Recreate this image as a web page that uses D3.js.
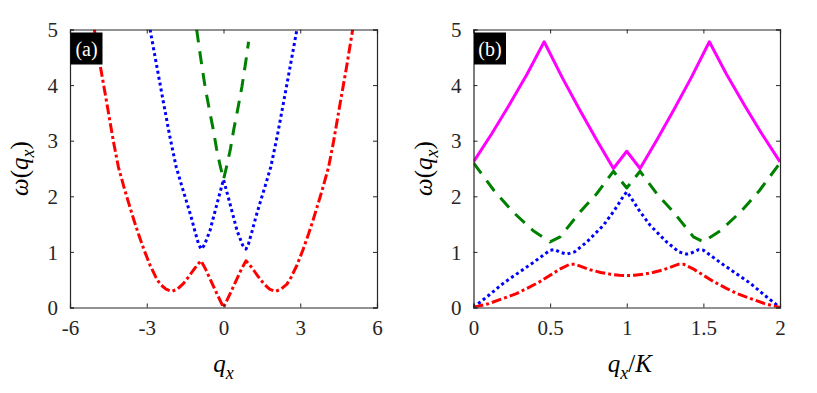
<!DOCTYPE html>
<html>
<head>
<meta charset="utf-8">
<script src="https://cdn.jsdelivr.net/npm/d3@7"></script>
<style>
  body { margin: 0; background: #fff; }
</style>
</head>
<body>
<svg width="817" height="393"></svg>
<script>

// DATA ––––––––––––––––––––––––––––––––––––––––––––––––––––––––––––––––

// panel (a): omega vs q_x
var qRedA = [-5.05, -4.8, -4.57, -4.3, -4.11, -3.9, -3.72, -3.5, -3.33, -3.1, -2.87, -2.65, -2.48, -2.25, -2.02, -1.8, -1.57, -1.35, -1.18, -1.0, -0.88, -0.7, -0.53, -0.3, 0,
             0.3, 0.53, 0.7, 0.88, 1.0, 1.18, 1.35, 1.57, 1.8, 2.02, 2.25, 2.48, 2.65, 2.87, 3.1, 3.33, 3.5, 3.72, 3.9, 4.11, 4.3, 4.57, 4.8, 5.05];
var wRedA = [5.0, 4.3, 3.7, 2.98, 2.53, 2.18, 1.9, 1.57, 1.33, 1.03, 0.76, 0.55, 0.42, 0.33, 0.29, 0.33, 0.43, 0.56, 0.67, 0.78, 0.84, 0.69, 0.52, 0.29, 0,
             0.29, 0.52, 0.69, 0.84, 0.78, 0.67, 0.56, 0.43, 0.33, 0.29, 0.33, 0.42, 0.55, 0.76, 1.03, 1.33, 1.57, 1.9, 2.18, 2.53, 2.98, 3.7, 4.3, 5.0];

var qBlueA = [-2.87, -2.6, -2.36, -2.1, -1.85, -1.64, -1.44, -1.26, -1.11, -0.98, -0.88, -0.75, -0.53, -0.36, -0.2, 0,
              0.2, 0.36, 0.53, 0.75, 0.88, 0.98, 1.11, 1.26, 1.44, 1.64, 1.85, 2.1, 2.36, 2.6, 2.87];
var wBlueA = [5.0, 4.32, 3.72, 3.08, 2.53, 2.2, 1.9, 1.62, 1.36, 1.15, 1.05, 1.12, 1.38, 1.68, 1.96, 2.3,
              1.96, 1.68, 1.38, 1.12, 1.05, 1.15, 1.36, 1.62, 1.9, 2.2, 2.53, 3.08, 3.72, 4.32, 5.0];

var qGreenA = [-1.05, -0.88, -0.72, -0.55, -0.4, -0.27, -0.13, 0, 0.13, 0.27, 0.4, 0.55, 0.72, 0.88, 0.98];
var wGreenA = [5.0, 4.45, 3.97, 3.55, 3.2, 2.85, 2.55, 2.3, 2.55, 2.85, 3.2, 3.55, 3.97, 4.45, 4.78];

// panel (b): omega vs q_x/K
var tMagB = [0, 0.12, 0.23, 0.35, 0.461, 0.58, 0.69, 0.8, 0.913, 1.0, 1.087, 1.2, 1.31, 1.42, 1.539, 1.65, 1.77, 1.88, 2.0];
var wMagB = [2.62, 3.13, 3.63, 4.2, 4.78, 4.13, 3.57, 3.03, 2.5, 2.81, 2.5, 3.03, 3.57, 4.13, 4.78, 4.2, 3.63, 3.13, 2.62];

var tGreenB = [0, 0.135, 0.257, 0.39, 0.5, 0.565, 0.696, 0.805, 0.913, 1.0, 1.087, 1.195, 1.304, 1.435, 1.5, 1.61, 1.743, 1.865, 2.0];
var wGreenB = [2.6, 2.1, 1.72, 1.38, 1.18, 1.27, 1.72, 2.05, 2.45, 2.15, 2.45, 2.05, 1.72, 1.27, 1.18, 1.38, 1.72, 2.1, 2.6];

var tBlueB = [0, 0.1, 0.196, 0.28, 0.37, 0.45, 0.5, 0.53, 0.57, 0.609, 0.66, 0.74, 0.848, 0.92, 0.978, 1.0,
              1.022, 1.08, 1.152, 1.26, 1.34, 1.391, 1.43, 1.47, 1.5, 1.55, 1.63, 1.72, 1.804, 1.9, 2.0];
var wBlueB = [0, 0.22, 0.44, 0.6, 0.77, 0.93, 1.03, 1.04, 0.99, 0.96, 1.0, 1.18, 1.48, 1.75, 2.0, 2.08,
              2.0, 1.75, 1.48, 1.18, 1.0, 0.96, 0.99, 1.04, 1.03, 0.93, 0.77, 0.6, 0.44, 0.22, 0];

var tRedB = [0, 0.1, 0.196, 0.28, 0.35, 0.43, 0.5, 0.57, 0.63, 0.66, 0.7, 0.76, 0.83, 0.89, 0.95, 1.0,
             1.05, 1.11, 1.17, 1.24, 1.3, 1.34, 1.37, 1.43, 1.5, 1.57, 1.65, 1.72, 1.804, 1.9, 2.0];
var wRedB = [0, 0.07, 0.165, 0.25, 0.345, 0.46, 0.58, 0.7, 0.78, 0.78, 0.74, 0.68, 0.63, 0.6, 0.58, 0.575,
             0.58, 0.6, 0.63, 0.68, 0.74, 0.78, 0.78, 0.7, 0.58, 0.46, 0.345, 0.25, 0.165, 0.07, 0];

var xTicksA = [-6, -3, 0, 3, 6];
var xTicksB = [0, 0.5, 1, 1.5, 2];
var yTicks = [0, 1, 2, 3, 4, 5];


// D3 ––––––––––––––––––––––––––––––––––––––––––––––––––––––––––––––––––

var svg = d3.select("svg");
var axisColor = "#262626";
var serif = "Liberation Serif, Tinos, Times New Roman, serif";

var zip = function(xs, ys) {
  return xs.map(function(v, i) { return {x: v, y: ys[i]}; });
};

var panel = function(opts) {
  var x = d3.scaleLinear().domain(opts.xDomain).range([opts.left, opts.right]);
  var y = d3.scaleLinear().domain([0, 5]).range([opts.bottom, opts.top]);
  var g = svg.append("g");

  // clip so lines stop at the box
  var clipId = "clip-" + opts.id;
  svg.append("clipPath").attr("id", clipId)
    .append("rect")
      .attr("x", opts.left).attr("y", opts.top)
      .attr("width", opts.right - opts.left).attr("height", opts.bottom - opts.top);

  var line = d3.line()
    .x(function(d) { return x(d.x); })
    .y(function(d) { return y(d.y); });

  var lines = g.append("g").attr("clip-path", "url(#" + clipId + ")");
  opts.series.forEach(function(s) {
    lines.append("path")
      .datum(zip(s.xs, s.ys))
      .attr("fill", "none")
      .attr("stroke", s.color)
      .attr("stroke-width", 3)
      .attr("stroke-dasharray", s.dash)
      .attr("stroke-linejoin", "round")
      .attr("d", line);
  });

  // axes, ticks inward, mirrored on top and right
  var str = function(d) { return String(d); };
  var bottomAx = g.append("g")
    .attr("transform", "translate(0," + opts.bottom + ")")
    .call(d3.axisBottom(x).tickValues(opts.xTicks).tickSize(-4).tickPadding(13).tickFormat(str));
  var topAx = g.append("g")
    .attr("transform", "translate(0," + opts.top + ")")
    .call(d3.axisTop(x).tickValues(opts.xTicks).tickSize(-4).tickFormat(""));
  var leftAx = g.append("g")
    .attr("transform", "translate(" + opts.left + ",0)")
    .call(d3.axisLeft(y).tickValues(yTicks).tickSize(-4).tickPadding(12).tickFormat(str));
  var rightAx = g.append("g")
    .attr("transform", "translate(" + opts.right + ",0)")
    .call(d3.axisRight(y).tickValues(yTicks).tickSize(-4).tickFormat(""));

  [bottomAx, topAx, leftAx, rightAx].forEach(function(a) {
    a.attr("font-family", serif).attr("font-size", 21);
    a.select(".domain").attr("stroke", axisColor).attr("stroke-width", 1.2);
    a.selectAll(".tick line").attr("stroke", axisColor).attr("stroke-width", 1);
    a.selectAll(".tick text").attr("fill", axisColor).attr("font-family", serif);
  });
  leftAx.selectAll(".tick text").attr("dy", "0.34em");

  // panel tag
  g.append("rect")
    .attr("x", opts.left + 0.5).attr("y", opts.top + 3)
    .attr("width", 32).attr("height", 32)
    .attr("fill", "#000");
  g.append("text")
    .attr("x", opts.left + 16.5).attr("y", opts.top + 26)
    .attr("text-anchor", "middle")
    .attr("fill", "#fff")
    .attr("font-family", serif)
    .attr("font-size", 20)
    .text(opts.tag);

  // y label  ω(q_x)
  var yl = g.append("text")
    .attr("transform", "translate(" + (opts.left - 42) + "," + ((opts.top + opts.bottom) / 2) + ") rotate(-90)")
    .attr("text-anchor", "middle")
    .attr("fill", "#000")
    .attr("font-family", serif)
    .attr("font-size", 25);
  yl.append("tspan").attr("font-style", "italic").text("ω");
  yl.append("tspan").text("(");
  yl.append("tspan").attr("font-style", "italic").text("q");
  yl.append("tspan").attr("font-style", "italic").attr("font-size", 18).attr("dy", 6).text("x");
  yl.append("tspan").attr("dy", -6).text(")");

  // x label
  var xl = g.append("text")
    .attr("x", (opts.left + opts.right) / 2 + opts.xLabelShift)
    .attr("y", 372)
    .attr("text-anchor", "middle")
    .attr("fill", "#000")
    .attr("font-family", serif)
    .attr("font-size", 25);
  xl.append("tspan").attr("font-style", "italic").text("q");
  xl.append("tspan").attr("font-style", "italic").attr("font-size", 18).attr("dy", 7).text("x");
  if (opts.xLabelTail) {
    xl.append("tspan").attr("dy", -7).text("/");
    xl.append("tspan").attr("font-style", "italic").text("K");
  }
};

var red = "#ff0000", blue = "#0000ff", green = "#008000", magenta = "#ff00ff";
var dashDot = "10,3,3,3", dotted = "3,3", dashed = "13,9";

panel({
  id: "a", tag: "(a)", left: 70, right: 377, top: 29.5, bottom: 307.5,
  xDomain: [-6, 6], xTicks: xTicksA, xLabelShift: 0,
  series: [
    {xs: qGreenA, ys: wGreenA, color: green, dash: dashed},
    {xs: qBlueA, ys: wBlueA, color: blue, dash: dotted},
    {xs: qRedA, ys: wRedA, color: red, dash: dashDot}
  ]
});

panel({
  id: "b", tag: "(b)", left: 473.5, right: 780, top: 29.5, bottom: 307.5,
  xDomain: [0, 2], xTicks: xTicksB, xLabelShift: 3, xLabelTail: true,
  series: [
    {xs: tMagB, ys: wMagB, color: magenta, dash: null},
    {xs: tGreenB, ys: wGreenB, color: green, dash: dashed},
    {xs: tBlueB, ys: wBlueB, color: blue, dash: dotted},
    {xs: tRedB, ys: wRedB, color: red, dash: dashDot}
  ]
});

// make sure the serif faces are loaded, then re-apply so text re-lays out
if (document.fonts && document.fonts.load) {
  Promise.all([
    document.fonts.load('21px "Liberation Serif"'),
    document.fonts.load('italic 25px "Liberation Serif"')
  ]).then(function() {
    svg.selectAll("text").attr("font-family", serif);
  });
}

</script>
</body>
</html>
